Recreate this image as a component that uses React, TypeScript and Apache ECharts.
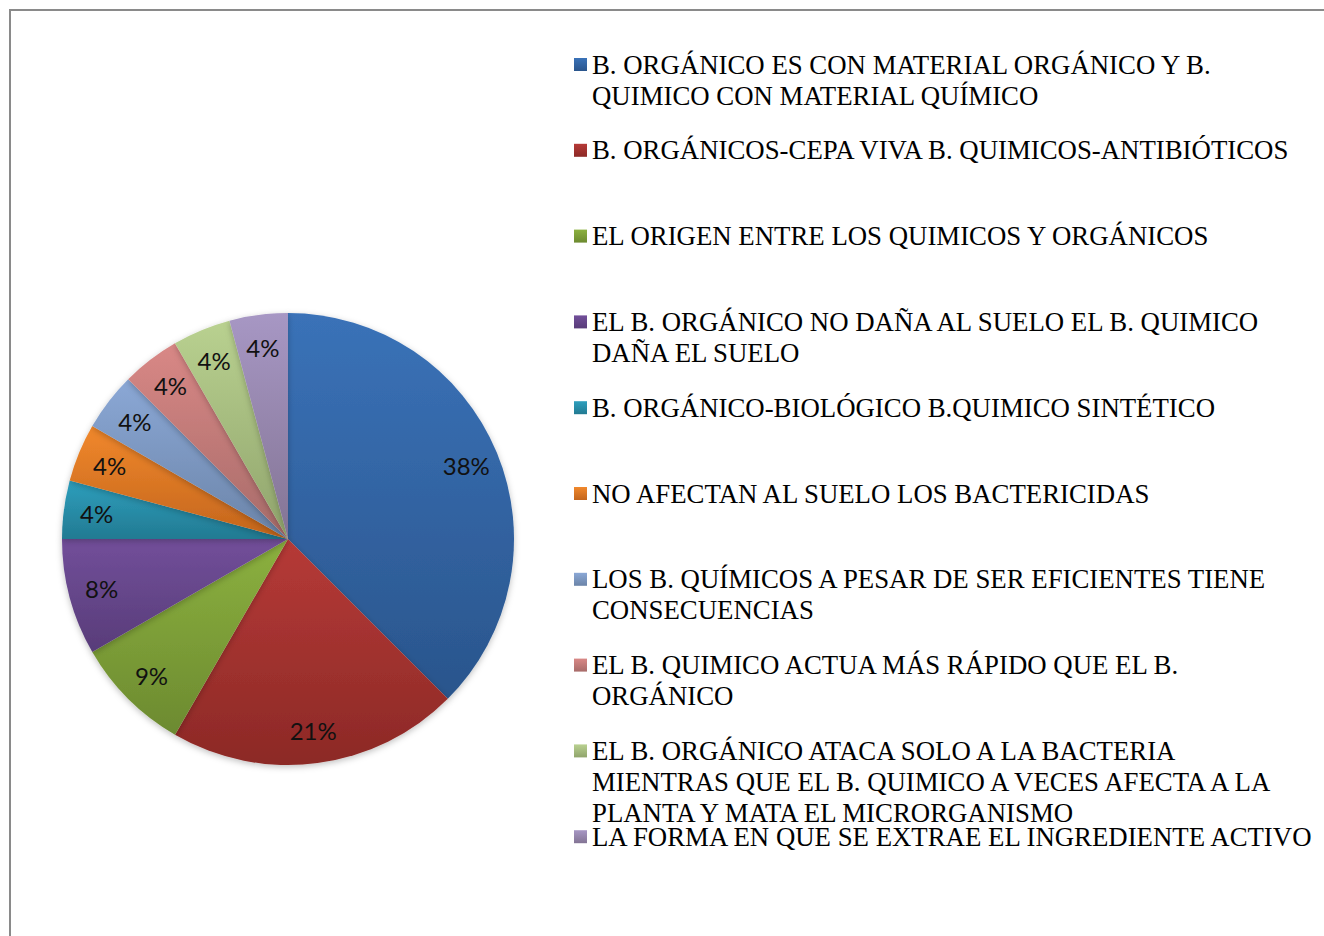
import React, { useEffect, useRef } from "react";
import * as echarts from "echarts";

const categories = [
  "B. ORGÁNICO ES CON MATERIAL ORGÁNICO Y B. QUIMICO CON MATERIAL QUÍMICO",
  "B. ORGÁNICOS-CEPA VIVA B. QUIMICOS-ANTIBIÓTICOS",
  "EL ORIGEN ENTRE LOS QUIMICOS Y ORGÁNICOS",
  "EL B. ORGÁNICO NO DAÑA AL SUELO EL B. QUIMICO DAÑA EL SUELO",
  "B. ORGÁNICO-BIOLÓGICO B.QUIMICO SINTÉTICO",
  "NO AFECTAN AL SUELO LOS BACTERICIDAS",
  "LOS B. QUÍMICOS A PESAR DE SER EFICIENTES TIENE CONSECUENCIAS",
  "EL B. QUIMICO ACTUA MÁS RÁPIDO QUE EL B. ORGÁNICO",
  "EL B. ORGÁNICO ATACA SOLO A LA BACTERIA MIENTRAS QUE EL B. QUIMICO A VECES AFECTA A LA PLANTA Y MATA EL MICRORGANISMO",
  "LA FORMA EN QUE SE EXTRAE EL INGREDIENTE ACTIVO",
];

// legend text as wrapped in the reference
const legendLines = [
  ["B. ORGÁNICO ES CON MATERIAL ORGÁNICO Y B.", "QUIMICO CON MATERIAL QUÍMICO"],
  ["B. ORGÁNICOS-CEPA VIVA B. QUIMICOS-ANTIBIÓTICOS"],
  ["EL ORIGEN ENTRE LOS QUIMICOS Y ORGÁNICOS"],
  ["EL B. ORGÁNICO NO DAÑA AL SUELO EL B. QUIMICO", "DAÑA EL SUELO"],
  ["B. ORGÁNICO-BIOLÓGICO B.QUIMICO SINTÉTICO"],
  ["NO AFECTAN AL SUELO LOS BACTERICIDAS"],
  ["LOS B. QUÍMICOS A PESAR DE SER EFICIENTES TIENE", "CONSECUENCIAS"],
  ["EL B. QUIMICO ACTUA MÁS RÁPIDO QUE EL B.", "ORGÁNICO"],
  [
    "EL B. ORGÁNICO ATACA SOLO A LA BACTERIA",
    "MIENTRAS QUE EL B. QUIMICO A VECES AFECTA A LA",
    "PLANTA Y MATA EL MICRORGANISMO",
  ],
  ["LA FORMA EN QUE SE EXTRAE EL INGREDIENTE ACTIVO"],
];

const counts = [9, 5, 2, 2, 1, 1, 1, 1, 1, 1];

const colorTop = [
  "#3a72b8", "#b63a37", "#8cb13f", "#724f9a", "#2e9fbd",
  "#f1882c", "#8ba8d6", "#d98886", "#b9d190", "#a797c4",
];
const colorBottom = [
  "#2a558c", "#8c2926", "#6c8a30", "#583c79", "#227a92",
  "#c3651c", "#6b84a8", "#a76b69", "#90a46c", "#837494",
];

const LEG_Y0 = 64.5;
const LEG_STEP = 85.8;
const LH = 31;
const CX = 288;
const CY = 539;
const R = 226;

export default function App() {
  const ref = useRef<HTMLDivElement>(null);

  useEffect(() => {
    if (!ref.current) return;
    const chart = echarts.init(ref.current, null, { renderer: "svg" });

    const grad = (i: number) =>
      new echarts.graphic.LinearGradient(0, 0, 0, 1, [
        { offset: 0, color: colorTop[i] },
        { offset: 1, color: colorBottom[i] },
      ]);

    const data = categories.map((name, i) => ({
      name,
      value: counts[i],
      itemStyle: { color: grad(i) },
    }));

    const wrapped: Record<string, string> = {};
    const legends = categories.map((name, i) => {
      const lines = legendLines[i];
      const k = lines.length;
      const all = new Array(k - 1).fill("").concat(lines);
      wrapped[name] = all.join("\n");
      const n = 2 * k - 1;
      return {
        data: [name],
        orient: "vertical",
        left: 574,
        top: LEG_Y0 + i * LEG_STEP - (n * LH) / 2,
        padding: 0,
        itemWidth: 13,
        itemHeight: 13,
        icon: "rect",
        selectedMode: false,
        formatter: (nm: string) => wrapped[nm],
        textStyle: {
          fontFamily: "'Liberation Serif', 'Times New Roman', serif",
          fontSize: 26.8,
          lineHeight: LH,
          color: "#000",
        },
      };
    });

    chart.setOption({
      animation: false,
      backgroundColor: "#ffffff",
      graphic: [
        {
          type: "rect",
          shape: { x: 10, y: 10, width: 1500, height: 1200 },
          style: { fill: "none", stroke: "#8a8a8a", lineWidth: 2 },
          silent: true,
          z: -10,
        },
      ],
      legend: legends,
      series: [
        {
          type: "pie",
          center: [CX, CY],
          radius: [0, R],
          startAngle: 90,
          clockwise: true,
          percentPrecision: 0,
          avoidLabelOverlap: false,
          label: { show: false },
          labelLine: { show: false },
          emphasis: { disabled: true },
          itemStyle: {
            borderWidth: 0,
            shadowBlur: 6,
            shadowColor: "rgba(0,0,0,0.25)",
            shadowOffsetY: 2,
          },
          data,
        },
        {
          type: "pie",
          center: [CX, CY],
          radius: [154, R],
          startAngle: 90,
          clockwise: true,
          percentPrecision: 0,
          avoidLabelOverlap: false,
          silent: true,
          emphasis: { disabled: true },
          itemStyle: { color: "transparent", borderWidth: 0 },
          label: {
            show: true,
            position: "inside",
            formatter: "{d}%",
            color: "#111",
            fontSize: 24,
            fontFamily: "Lato, 'Open Sans', sans-serif",
          },
          labelLine: { show: false },
          data: categories.map((name, i) => ({ name, value: counts[i] })),
        },
      ],
    });

    return () => chart.dispose();
  }, []);

  return (
    <div
      ref={ref}
      style={{
        position: "absolute",
        left: 0,
        top: 0,
        width: 1324,
        height: 936,
        overflow: "hidden",
      }}
    />
  );
}
